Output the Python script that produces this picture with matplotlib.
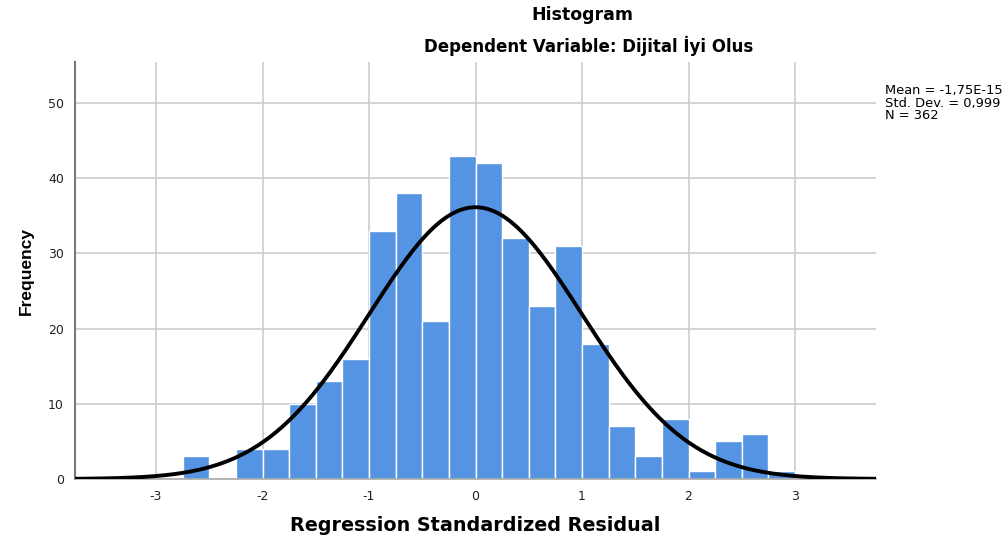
import numpy as np
import matplotlib
matplotlib.use("Agg")
import matplotlib.pyplot as plt

plt.rcParams["font.family"] = ["DejaVu Sans"]

# histogram bins (width 0.25) and counts
bin_edges = [-2.75, -2.5, -2.25, -2.0, -1.75, -1.5, -1.25, -1.0, -0.75, -0.5, -0.25,
             0.0, 0.25, 0.5, 0.75, 1.0, 1.25, 1.5, 1.75, 2.0, 2.25, 2.5, 2.75, 3.0]
counts = [3, 0, 4, 4, 10, 13, 16, 33, 38, 21, 43, 42, 32, 23, 31, 18, 7, 3, 8, 1, 5, 6, 1]
mean = -1.75e-15
std_dev = 0.999
n_obs = 362
x_ticks = [-3, -2, -1, 0, 1, 2, 3]
y_ticks = [0, 10, 20, 30, 40, 50]

fig = plt.figure(figsize=(10.06, 5.42), dpi=100)
ax = fig.add_axes([0.0746, 0.1162, 0.7962, 0.7694])

edges = np.array(bin_edges)
ax.bar(edges[:-1], counts, width=np.diff(edges), align="edge",
       color="#5594e3", edgecolor="white", linewidth=1.0, zorder=2)

# normal curve scaled to counts
xs = np.linspace(-3.76, 3.76, 400)
width = edges[1] - edges[0]
ys = n_obs * width / (std_dev * np.sqrt(2 * np.pi)) * np.exp(-0.5 * ((xs - mean) / std_dev) ** 2)
ax.plot(xs, ys, color="black", linewidth=2.8, zorder=3)

ax.set_xlim(-3.76, 3.76)
ax.set_ylim(0, 55.45)
ax.set_xticks(x_ticks)
ax.set_xticklabels([str(t) for t in x_ticks])
ax.set_yticks(y_ticks)
ax.tick_params(length=0, labelsize=9, pad=8, colors="#222222")
ax.grid(True, color="#cccccc", linewidth=1.2, zorder=0)
ax.set_axisbelow(True)
for side in ["top", "right"]:
    ax.spines[side].set_visible(False)
ax.spines["left"].set_color("#777777")
ax.spines["left"].set_linewidth(1.5)
ax.spines["bottom"].set_color("#aaaaaa")
ax.spines["bottom"].set_linewidth(1.2)

ax.set_xlabel("Regression Standardized Residual", fontsize=13.8, fontweight="bold", labelpad=9)
ax.set_ylabel("Frequency", fontsize=12.5, fontweight="bold", labelpad=10,
              family="Liberation Sans")

fig.text(0.5785, 0.973, "Histogram", ha="center", va="center", fontsize=12.5, fontweight="bold")
fig.text(0.5855, 0.915, "Dependent Variable: Dijital İyi Olus", ha="center", va="center",
         fontsize=12, fontweight="bold")

stats_text = f"Mean = -1,75E-15\nStd. Dev. = {std_dev:.3f}".replace(".999", ",999") + f"\nN = {n_obs}"
fig.text(0.880, 0.845, stats_text, ha="left", va="top", fontsize=9.4, linespacing=0.95)

fig.savefig("out.png", dpi=100)
